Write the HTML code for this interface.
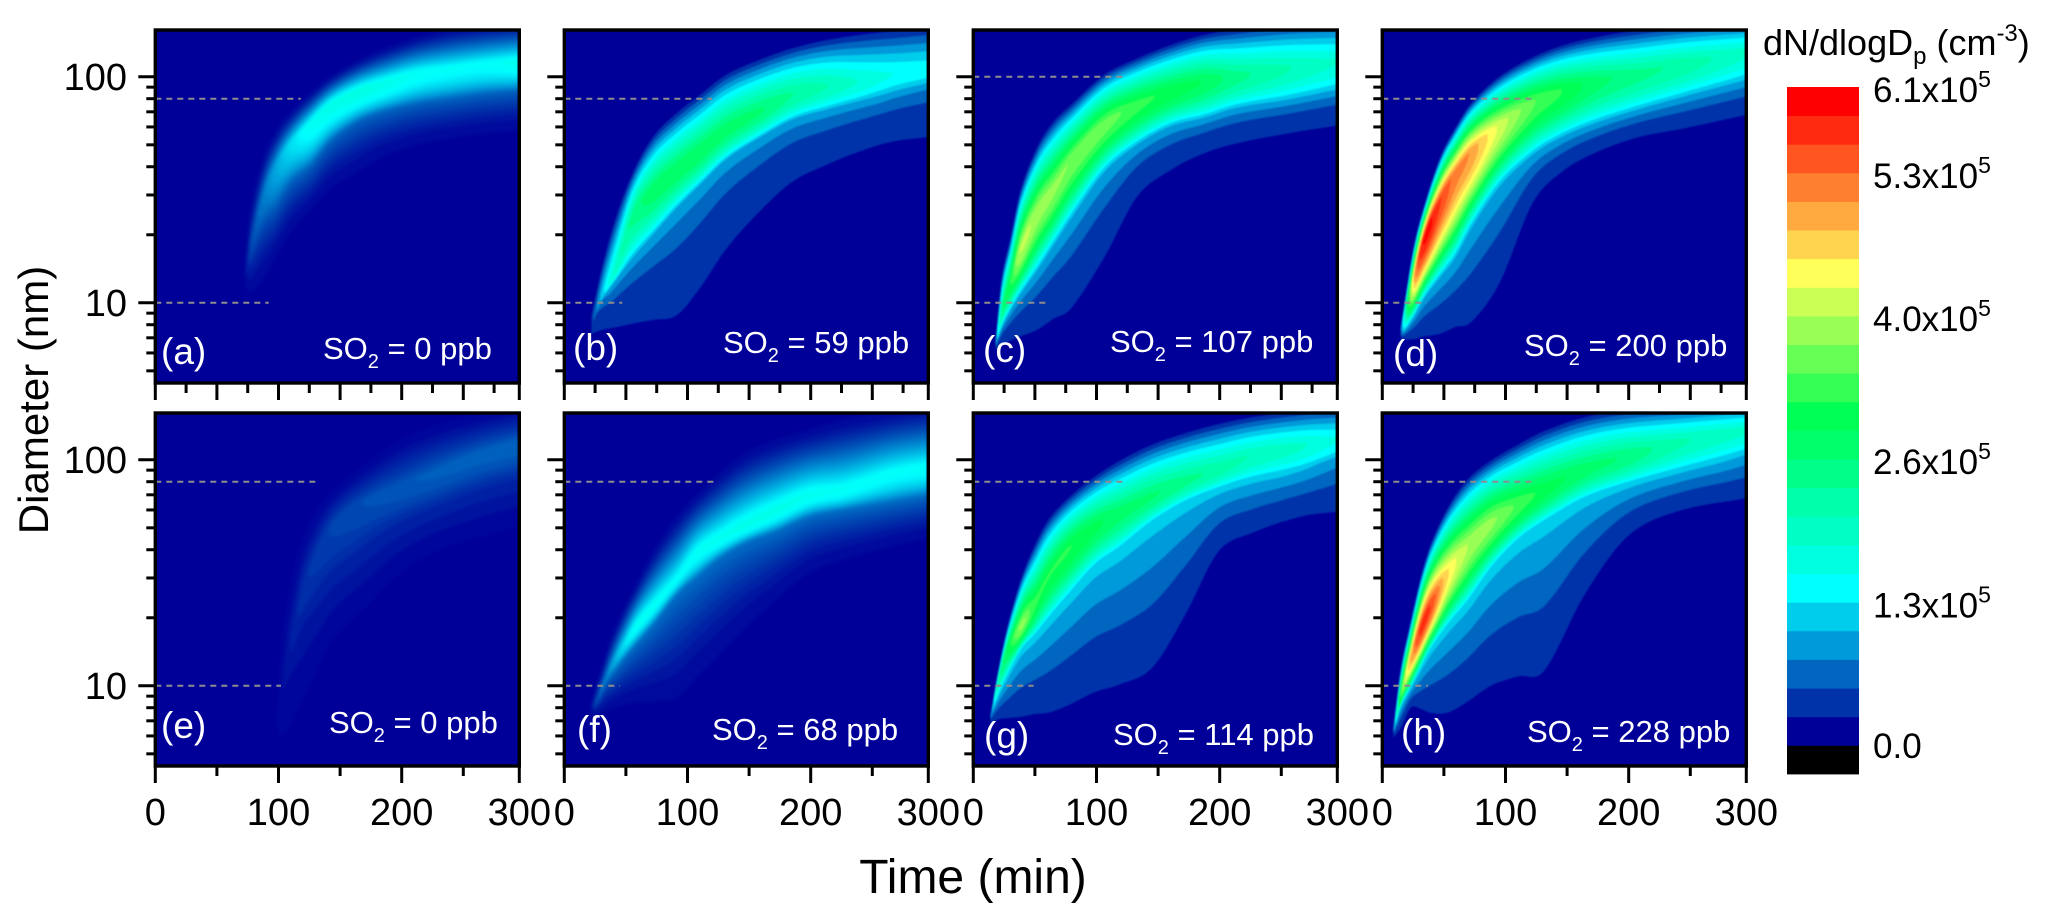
<!DOCTYPE html>
<html lang="en">
<head>
<meta charset="utf-8">
<title>Particle size distribution evolution</title>
<style>
html,body{margin:0;padding:0;background:#fff;}
svg{display:block;}
text{font-family:"Liberation Sans",sans-serif;white-space:pre;}
.note{fill:#fff;font-size:31px;}
.letter{fill:#fff;font-size:37px;}
.tick{fill:#000;font-size:38px;}
.cb{fill:#000;font-size:35px;}
</style>
</head>
<body>
<svg id="chart" xmlns="http://www.w3.org/2000/svg" width="2067" height="922" viewBox="0 0 2067 922">
<rect x="0" y="0" width="2067" height="922" fill="#fff"/>
<g id="panels"></g>
<g id="axes"></g>
<g id="colorbar"></g>

<text class="letter" x="161" y="364">(a)</text>
<text class="note" x="323" y="359">SO<tspan font-size="20" dy="9">2</tspan><tspan dy="-9"> = 0 ppb</tspan></text>
<text class="letter" x="573" y="360">(b)</text>
<text class="note" x="723" y="353">SO<tspan font-size="20" dy="9">2</tspan><tspan dy="-9"> = 59 ppb</tspan></text>
<text class="letter" x="983" y="362">(c)</text>
<text class="note" x="1110" y="352">SO<tspan font-size="20" dy="9">2</tspan><tspan dy="-9"> = 107 ppb</tspan></text>
<text class="letter" x="1393" y="366">(d)</text>
<text class="note" x="1524" y="356">SO<tspan font-size="20" dy="9">2</tspan><tspan dy="-9"> = 200 ppb</tspan></text>
<text class="letter" x="161" y="738">(e)</text>
<text class="note" x="329" y="733">SO<tspan font-size="20" dy="9">2</tspan><tspan dy="-9"> = 0 ppb</tspan></text>
<text class="letter" x="577" y="742">(f)</text>
<text class="note" x="712" y="740">SO<tspan font-size="20" dy="9">2</tspan><tspan dy="-9"> = 68 ppb</tspan></text>
<text class="letter" x="984" y="748">(g)</text>
<text class="note" x="1113" y="745">SO<tspan font-size="20" dy="9">2</tspan><tspan dy="-9"> = 114 ppb</tspan></text>
<text class="letter" x="1401" y="745">(h)</text>
<text class="note" x="1527" y="742">SO<tspan font-size="20" dy="9">2</tspan><tspan dy="-9"> = 228 ppb</tspan></text>

<text transform="translate(48,400) rotate(-90)" text-anchor="middle" font-size="42">Diameter (nm)</text>
<text x="973" y="893" text-anchor="middle" font-size="48">Time (min)</text>
<text x="1763" y="55" font-size="36">dN/dlogD<tspan font-size="24" dy="9">p</tspan><tspan dy="-9"> (cm</tspan><tspan font-size="24" dy="-14">-3</tspan><tspan dy="14">)</tspan></text>
</svg>

<script>
// Panel (a) SO2 = 0 ppb: time (min), diameters (nm), peak dN/dlogDp (1e5 cm-3)
const timesA = [73,77,88,99,110,126,142,164,185,212,239,266,296];
const upperA = [14.7,25.2,44.3,59,70,85,100,118,133,150,163,170,175];
const ridgeA = [13.7,18,31,42,51.6,63.2,76.2,87.3,95,105,110.7,115.7,118.5];
const kneeA  = [13.3,14.7,22,28,34.3,40.5,51.6,63.2,70,76,80,84,87];
const lowerA = [12,11.2,12.9,16.3,20.6,25.7,32,38,44.3,49.9,53.4,56.1,58.1];
const peakA  = [0.15,0.4,0.7,0.95,1.2,1.45,1.55,1.6,1.55,1.45,1.4,1.4,1.5];

// Panel (b) SO2 = 59 ppb
const timesB = [22,31,42,56,72,91,110,131,158,185,212,239,266,296];
const upperB = [8.8,14.7,24,38,54.2,68.8,83,101.7,118.5,133.5,145,153,159,165];
const ridgeB = [8,10.8,14.2,24.8,32,39.3,47.4,59,71,84.4,91.9,96.7,103.5,108.9];
const kneeB  = [7.8,10.3,12.6,15.8,19.9,26.1,33.1,42.8,53.4,64.3,71,77.5,84.4,91.9];
const lowerB = [7.3,7.6,7.8,8.1,8.4,8.8,11.6,17.2,25.2,34.3,40.6,46.6,51.6,54.2];
const peakB  = [0.5,1.3,2.0,2.5,2.8,2.85,2.85,2.8,2.7,2.4,2.15,1.85,1.6,1.5];

// Panel (c) SO2 = 107 ppb
const timesC = [18,23,30,38,52,65,79,106,133,160,187,214,255,296];
const upperC = [7,12.9,19.2,31,49,63.2,74.9,101.7,120.5,138,153,162,172,178];
const ridgeC = [6.5,9.1,12.4,17.2,25.7,32.6,42.8,62.1,76.2,87.3,96.7,101.7,110.7,118.5];
const kneeC  = [6.4,7.8,9.3,11,14.2,18.3,24,38.6,50.8,61.1,66.5,73.7,80,88.8];
const lowerC = [6.2,6.5,6.8,7.1,7.6,8.5,9.4,15.8,29.5,38.6,45.8,50.8,56.1,61];
const peakC  = [1,2.5,3.2,4,3.9,3.8,3.7,3.6,3.3,3.1,2.9,2.5,2.15,1.85];

// Panel (d) SO2 = 200 ppb
const timesD = [15,25,34,47,59,72,95,122,145,172,206,244,296];
const upperD = [7.9,17.3,27,44.1,59,76.2,100,121.8,136.7,149,160,169,178];
const ridgeD = [7.7,12.7,19.4,28.7,37.7,46.9,61.5,77.8,87.3,96.3,104,115,131.6];
const kneeD  = [7.1,8.6,10.6,13.2,16.1,21.9,33.6,45.9,54.6,62.8,71.9,82.4,98.3];
const lowerD = [6.9,6.9,7.1,7.3,7.8,8.2,12.2,27.6,37.7,45.9,53.7,59,67.9];
const peakD  = [0.8,4.7,5.9,5.6,5.2,5,4.2,3.5,3.2,2.8,2.5,2.3,1.9];

// Panel (e) SO2 = 0 ppb
const timesE = [99,104,118,131,145,172,199,231,266,296];
const upperE = [8,18.6,43.5,61.1,74.9,98.3,124.7,146,162,175];
const ridgeE = [7,11.2,25.2,39.3,53.4,67.7,77.5,91.9,108.9,120.5];
const kneeE  = [6.5,8.8,17.4,25.2,33.1,45,55.2,65.4,77.5,85.8];
const lowerE = [5.7,5.7,8,11.2,15.8,22,31,39.3,45,49.9];
const peakE  = [0.05,0.12,0.26,0.33,0.38,0.44,0.48,0.52,0.54,0.55];

// Panel (f) SO2 = 68 ppb
const timesF = [22,26,37,47,58,72,91,107,126,147,172,199,226,266,296];
const upperF = [8.5,10.1,15.7,21.3,28,39.3,56.1,70,87.3,107,122.6,136,150,165,175];
const ridgeF = [8,8.5,11.9,14.9,18.6,22.8,30,39.3,45.8,52.5,61.1,71,74.9,88.8,95];
const kneeF  = [7.8,8.2,10.8,12.9,15.2,18.6,25.2,30,36.7,42.8,48.2,56.1,60,65.4,70];
const lowerF = [7.2,7.3,7.8,8.2,8.4,8.5,8.8,10.8,13.7,18,24,31.5,36,41.4,45];
const peakF  = [0.2,0.5,0.85,1.2,1.45,1.45,1.4,1.45,1.5,1.55,1.55,1.5,1.45,1.4,1.4];

// Panel (g) SO2 = 114 ppb
const timesG = [14,20,28,39,50,61,77,99,118,145,172,199,226,266,296];
const upperG = [7.5,11.6,18.6,30,42,54.2,67.7,84.4,98.3,116.5,131,143.7,154,165,172];
const ridgeG = [7.2,10.5,14.7,18.6,23.6,31,40.6,51.6,59,70,81.5,91.9,105,116.5,124.7];
const kneeG  = [7.1,9,11.2,14.5,16.8,19.9,25.2,34.3,40.6,53.4,65.4,74.9,83,91.9,101.7];
const lowerG = [6.8,7.1,7.2,7.3,7.5,7.6,8.2,9.4,10.1,12,20.6,39.3,47.4,56.1,59];
const peakG  = [0.9,2.2,3,3.8,3.3,3.2,3.2,3,2.8,2.7,2.5,2.3,2.1,1.9,1.6];

// Panel (h) SO2 = 228 ppb
const timesH = [9,15,23,31,39,53,69,88,110,131,164,199,239,296];
const upperH = [6.7,12,19.3,30,41.8,61.1,81.5,99,116.5,133.5,154,166,172,180];
const ridgeH = [6.3,9.1,13.3,18,22.8,32,42,53.4,64.3,74.9,91.9,105,120.5,138];
const kneeH  = [6.2,8.1,9.8,12,14.5,18.6,23.6,33.1,44.3,53.4,67.7,78.8,90.3,108.9];
const lowerH = [5.9,6.5,8,7.9,7.6,7.6,8.5,10,11,11.6,25.2,45.8,59,67.7];
const peakH  = [1,3.5,4.9,5.7,5.6,4.6,4,3.8,3.4,3.1,2.8,2.6,2.2,1.9];

// Axis tick values and labels
const xTicksTop = [0,25,50,75,100,125,150,175,200,225,250,275,300];
const xTicksBottom = [0,50,100,150,200,250,300];
const xTickLabels = ['0','100','200','300'];
const yTickValues = [100,90,80,70,60,50,40,30,20,10,9,8,7,6,5];
const yTickLabels = ['100','10'];

// Colour scale, bottom to top, and its labels (units of 1e5 cm-3)
const bandColors = ['#000000','#000099','#0033aa','#0066c0','#0099d9','#00ccec','#00ffff','#00ffe0','#00ffc4','#00ffaa','#00ff88','#00ff6a','#00ff55','#33ff55','#66ff55','#99ff55','#ccff55','#ffff5a','#ffd550','#ffaa40','#ff7f30','#ff5520','#ff2a10','#ff0000'];
const colorbarValues = [0,1.3,2.6,4.0,5.3,6.1];
const colorbarLabels = ['0.0','1.3','2.6','4.0','5.3','6.1'];

const panelTimes = [timesA,timesB,timesC,timesD,timesE,timesF,timesG,timesH];
const panelUpper = [upperA,upperB,upperC,upperD,upperE,upperF,upperG,upperH];
const panelRidge = [ridgeA,ridgeB,ridgeC,ridgeD,ridgeE,ridgeF,ridgeG,ridgeH];
const panelKnee  = [kneeA,kneeB,kneeC,kneeD,kneeE,kneeF,kneeG,kneeH];
const panelLower = [lowerA,lowerB,lowerC,lowerD,lowerE,lowerF,lowerG,lowerH];
const panelPeak  = [peakA,peakB,peakC,peakD,peakE,peakF,peakG,peakH];
const panelKneeValue = [0.55,1.0,1.1,1.1,0.25,0.6,1.2,1.2];
const panelEdgeValue = [0.05,0.265,0.265,0.265,0.03,0.05,0.265,0.265];
const panelTailPower = [1.5,2.2,2,1.7,1.3,1.5,1.5,1.5];
const panelSmooth = [true,false,false,false,true,true,false,false];
const panelNames = ['a','b','c','d','e','f','g','h'];
const guideDiameters = [[80,10],[80,10],[100,10],[80,10],[80,10],[80,10],[80,10],[80,10]];
const guideEndTimes = [[118,92],[120,47],[122,62],[123,36],[132,102],[123,45],[122,49],[122,37]];

const NS = 'http://www.w3.org/2000/svg';
const PW = 364, PH = 353, STEP = 0.265;
const panelsG = document.getElementById('panels');
const axesG = document.getElementById('axes');
const cbG = document.getElementById('colorbar');

function mk(tag, attrs, parent) {
  const el = document.createElementNS(NS, tag);
  for (const k in attrs) el.setAttribute(k, attrs[k]);
  parent.appendChild(el);
  return el;
}
function panelLeft(i) { return 155.3 + 409 * (i % 4); }
function panelTop(i) { return i < 4 ? 30 : 413; }
function xScale(i, t) { return panelLeft(i) + Math.min(PW, t * 1.232); }
function yScale(i, d) { return panelTop(i) + 46.8 + (2 - Math.log10(d)) * 226; }
function yFromLog(i, l) { return panelTop(i) + 46.8 + (2 - l) * 226; }

function hermite(ts, ys, t) {
  const n = ts.length;
  if (t <= ts[0]) return ys[0];
  if (t >= ts[n - 1]) return ys[n - 1];
  let i = 0;
  while (i < n - 2 && t > ts[i + 1]) i++;
  const h = ts[i + 1] - ts[i], u = (t - ts[i]) / h;
  const s0 = (ys[i + 1] - ys[i]) / h;
  const m0 = i > 0 ? (ys[i + 1] - ys[i - 1]) / (ts[i + 1] - ts[i - 1]) : s0;
  const m1 = i < n - 2 ? (ys[i + 2] - ys[i]) / (ts[i + 2] - ts[i]) : s0;
  const u2 = u * u, u3 = u2 * u;
  return (2*u3 - 3*u2 + 1) * ys[i] + (u3 - 2*u2 + u) * h * m0 + (-2*u3 + 3*u2) * ys[i + 1] + (u3 - u2) * h * m1;
}

function hexRgb(h) { return [parseInt(h.slice(1,3),16), parseInt(h.slice(3,5),16), parseInt(h.slice(5,7),16)]; }
function lerpColor(v) {
  const k = v / STEP, f = Math.floor(k), fr = k - f;
  const a = hexRgb(bandColors[Math.min(1 + f, bandColors.length - 1)]);
  const b = hexRgb(bandColors[Math.min(2 + f, bandColors.length - 1)]);
  return 'rgb(' + a.map((c, j) => Math.round(c + (b[j] - c) * fr)).join(',') + ')';
}

function columnRange(L, s, edge, kneeV, tailPow, smooth) {
  const p = s.p;
  if (p <= L || p <= edge) return null;
  const frac = (L - edge) / (p - edge);
  const uu = smooth ? 1 - Math.pow(Math.max(frac, 0), 1 / 1.4) : Math.pow(1 - frac, 1 / 1.2);
  const top = s.r + (s.u - s.r) * uu;
  const kv = Math.max(edge + 0.001, Math.min(kneeV, 0.6 * p));
  let bot;
  if (L >= kv && p > kv) {
    bot = s.r + (s.k - s.r) * Math.sqrt((p - L) / (p - kv));
  } else {
    const q = Math.max(0, Math.min(1, (L - edge) / (kv - edge)));
    bot = s.k + (s.l - s.k) * (1 - Math.pow(q, 1 / tailPow));
  }
  return [top, bot];
}

function drawPanel(i) {
  const left = panelLeft(i), top = panelTop(i), name = panelNames[i];
  const ts = panelTimes[i];
  const lu = panelUpper[i].map(Math.log10), lr = panelRidge[i].map(Math.log10);
  const lk = panelKnee[i].map(Math.log10), ll = panelLower[i].map(Math.log10);
  const pk = panelPeak[i], edge = panelEdgeValue[i], kneeV = panelKneeValue[i];
  const tailPow = panelTailPower[i], smooth = panelSmooth[i];

  const clip = mk('clipPath', { id: 'clip-' + name }, panelsG);
  mk('rect', { x: left, y: top, width: PW, height: PH }, clip);
  const g = mk('g', { 'clip-path': 'url(#clip-' + name + ')' }, panelsG);
  
  
  const bg = mk('rect', { x: left, y: top, width: PW, height: PH, fill: bandColors[1] }, g);
  
  
  const inner = mk('g', { style: 'filter:blur(' + (smooth ? 1.5 : 0.7) + 'px)' }, g);

  const samples = [];
  const dt = 1.5;
  for (let t = ts[0]; t <= ts[ts.length - 1] + dt; t += dt) {
    const tt = Math.min(t, ts[ts.length - 1]);
    const s = { t: t, r: hermite(ts, lr, tt), p: Math.max(0, hermite(ts, pk, tt)) };
    s.u = Math.max(hermite(ts, lu, tt), s.r + 0.003);
    s.k = Math.min(hermite(ts, lk, tt), s.r - 0.003);
    s.l = Math.min(hermite(ts, ll, tt), s.k - 0.003);
    samples.push(s);
  }

  const step = smooth ? STEP / 4 : STEP;
  const start = smooth ? Math.max(step / 2, edge) : STEP;
  for (let L = start; L < 6.15; L += step) {
    let d = '', tops = [], bots = [];
    const flush = function () {
      if (tops.length > 1) {
        d += 'M' + tops.join('L') + 'L' + bots.reverse().join('L') + 'Z';
      }
      tops = []; bots = [];
    };
    samples.forEach(function (s) {
      const r = columnRange(L, s, edge, kneeV, tailPow, smooth);
      if (!r) { flush(); return; }
      const x = xScale(i, s.t).toFixed(1);
      tops.push(x + ' ' + yFromLog(i, r[0]).toFixed(1));
      bots.push(x + ' ' + yFromLog(i, r[1]).toFixed(1));
    });
    flush();
    if (!d) continue;
    const idx = Math.round(L / STEP) + 1;
    const fill = smooth ? lerpColor(L) : bandColors[Math.min(idx, bandColors.length - 1)];
    const path = mk('path', { d: d, fill: fill }, inner);
    
    
  }

  guideDiameters[i].forEach(function (dia, j) {
    const line = mk('line', { x1: left, x2: xScale(i, guideEndTimes[i][j]), y1: yScale(i, dia), y2: yScale(i, dia), stroke: '#8d8d8d', 'stroke-width': 2, 'stroke-dasharray': '6 5' }, g);
    
    
  });
}

function drawAxes(i) {
  const left = panelLeft(i), top = panelTop(i), bottom = top + PH;
  const frame = mk('rect', { x: left, y: top, width: PW, height: PH, fill: 'none', stroke: '#000', 'stroke-width': 3.4 }, axesG);
  
  

  const isTop = i < 4;
  const xTicks = isTop ? xTicksTop : xTicksBottom;
  xTicks.forEach(function (t) {
    const major = isTop ? t % 50 === 0 : t % 100 === 0;
    const x = xScale(i, t);
    const tick = mk('line', { x1: x, x2: x, y1: bottom, y2: bottom + (major ? 17 : 10), stroke: '#000', 'stroke-width': 3 }, axesG);
    
    
  });
  if (!isTop) {
    xTickLabels.forEach(function (lab) {
      const txt = mk('text', { x: xScale(i, Number(lab)), y: 825, 'text-anchor': 'middle', class: 'tick' }, axesG);
      txt.textContent = lab;
      
      
    });
  }

  yTickValues.forEach(function (v) {
    const major = yTickLabels.indexOf(String(v)) >= 0;
    const y = yScale(i, v);
    const tick = mk('line', { x1: left, x2: left - (major ? 17 : 9), y1: y, y2: y, stroke: '#000', 'stroke-width': 3 }, axesG);
    
    
  });
  if (i % 4 === 0) {
    yTickLabels.forEach(function (lab) {
      const txt = mk('text', { x: 127, y: yScale(i, Number(lab)) + 13, 'text-anchor': 'end', class: 'tick' }, axesG);
      txt.textContent = lab;
      
      
    });
  }
}

function drawColorbar() {
  const x = 1787, w = 72, bottom = 774, h = 28.625;
  bandColors.forEach(function (c, k) {
    const r = mk('rect', { x: x, y: bottom - (k + 1) * h, width: w, height: h + 0.4, fill: c }, cbG);
    
    
  });
  colorbarValues.forEach(function (v, j) {
    const band = Math.round(v / STEP);
    const y = bottom - (band + 1) * h + (v === 0 ? 12.5 : 15);
    const t = mk('text', { x: 1873, y: y, class: 'cb' }, cbG);
    t.textContent = colorbarLabels[j];
    
    
    if (v !== 0) {
      const a = mk('tspan', {}, t);
      a.textContent = 'x10';
      const b = mk('tspan', { 'font-size': 23, dy: -15 }, t);
      b.textContent = '5';
    }
  });
}

for (let i = 0; i < 8; i++) drawPanel(i);
for (let i = 0; i < 8; i++) drawAxes(i);
drawColorbar();
</script>
</body>
</html>
